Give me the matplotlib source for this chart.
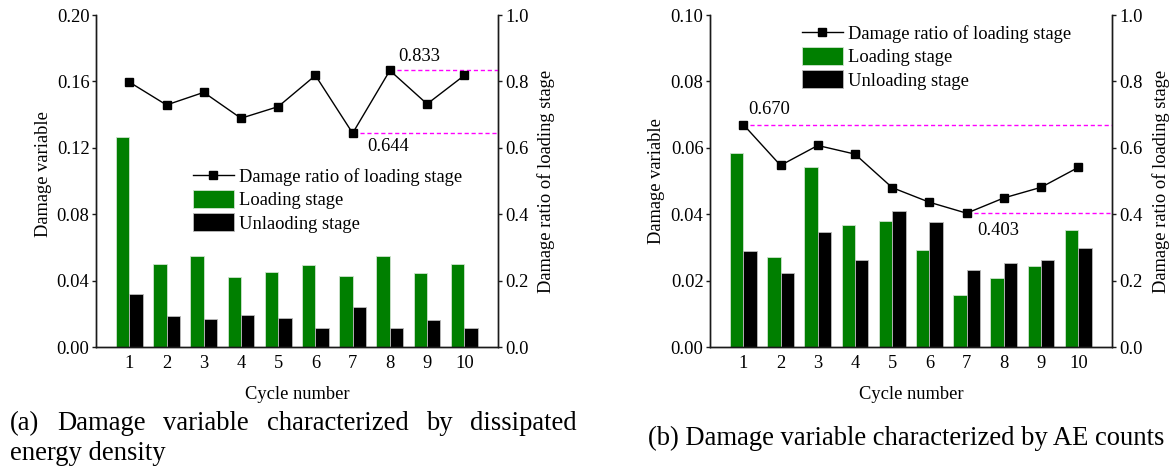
import matplotlib
matplotlib.use("Agg")
import matplotlib.pyplot as plt
from matplotlib.lines import Line2D
from matplotlib.patches import Patch

plt.rcParams['font.family'] = ['Liberation Serif', 'DejaVu Serif']

cycles = [1, 2, 3, 4, 5, 6, 7, 8, 9, 10]

# (a) dissipated energy density
a_loading = [0.1265, 0.0500, 0.0548, 0.0420, 0.0452, 0.0496, 0.0428, 0.0546, 0.0444, 0.0500]
a_unloading = [0.0321, 0.0187, 0.0169, 0.0191, 0.0173, 0.0112, 0.0239, 0.0112, 0.0163, 0.0112]
a_ratio = [0.798, 0.729, 0.767, 0.689, 0.724, 0.818, 0.644, 0.833, 0.732, 0.818]

# (b) AE counts
b_loading = [0.0584, 0.0270, 0.0541, 0.0366, 0.0380, 0.0292, 0.0157, 0.0208, 0.0245, 0.0351]
b_unloading = [0.0288, 0.0222, 0.0347, 0.0263, 0.0410, 0.0376, 0.0232, 0.0253, 0.0263, 0.0298]
b_ratio = [0.670, 0.547, 0.607, 0.581, 0.480, 0.436, 0.403, 0.449, 0.481, 0.541]

a_yticks = [0.00, 0.04, 0.08, 0.12, 0.16, 0.20]
b_yticks = [0.00, 0.02, 0.04, 0.06, 0.08, 0.10]
r_yticks = [0.0, 0.2, 0.4, 0.6, 0.8, 1.0]

GREEN = '#007f00'
MAG = '#ff00ff'
SPINE = '#1a1a1a'
FS = 13.3

W, H = 1170, 466
fig = plt.figure(figsize=(W / 100, H / 100), dpi=100)
XL = (0.105, 10.905)


def style_axis(a):
    a.spines['top'].set_visible(False)
    for s in ('left', 'bottom', 'right'):
        a.spines[s].set_linewidth(1.0)
        a.spines[s].set_color(SPINE)


def panel(rect, loading, unloading, ratio, yticks, ymax, legend_label2,
          ann, legend_anchor, ylab_left_x, ylab_left_y, ylab_right_x):
    ax = fig.add_axes(rect)
    w = 0.36
    ax.bar([c - w / 2 for c in cycles], loading, width=w, color=GREEN,
           edgecolor='#cfe3cf', linewidth=0.6, zorder=2)
    ax.bar([c + w / 2 for c in cycles], unloading, width=w, color='black',
           edgecolor='#bbbbbb', linewidth=0.6, zorder=2)
    ax.set_xlim(*XL)
    ax.set_ylim(0, ymax)
    ax.set_yticks(yticks)
    ax.set_yticklabels(['{:.2f}'.format(v) for v in yticks], fontsize=FS)
    ax.set_xticks(cycles)
    ax.set_xticklabels([str(c) for c in cycles], fontsize=FS)
    ax.tick_params(axis='x', length=0, pad=5.5)
    ax.tick_params(axis='y', direction='out', length=3.2, width=1, pad=1.5, color=SPINE)
    style_axis(ax)
    ax.set_xlabel('Cycle number', fontsize=FS, labelpad=10.5)
    ax.set_ylabel('Damage variable', fontsize=FS)
    ax.yaxis.set_label_coords(ylab_left_x, ylab_left_y)

    ax2 = ax.twinx()
    ax2.set_ylim(0, 1.0)
    ax2.set_yticks(r_yticks)
    ax2.set_yticklabels(['{:.1f}'.format(v) for v in r_yticks], fontsize=FS)
    ax2.tick_params(axis='y', direction='out', length=3.2, width=1, pad=1.8, color=SPINE)
    style_axis(ax2)
    ax2.plot(cycles, ratio, color='black', lw=1.0, marker='s', markersize=6,
             markerfacecolor='black', markeredgecolor='black', zorder=3)
    ax2.set_ylabel('Damage ratio of loading stage', fontsize=FS)
    ax2.yaxis.set_label_coords(ylab_right_x, 0.5)

    for (idx, txt, dx, dy) in ann:
        xv = cycles[idx]
        yv = ratio[idx]
        ax2.plot([xv, XL[1]], [yv, yv], color=MAG, lw=1.0, ls=(0, (3, 2)), zorder=2)
        ax2.annotate(txt, (xv, yv), xytext=(dx, dy), textcoords='offset points',
                     fontsize=FS, ha='left', va='center')

    handles = [Line2D([], [], color='black', lw=1.0, marker='s', markersize=6),
               Patch(facecolor=GREEN, edgecolor='#cfe3cf', linewidth=0.6),
               Patch(facecolor='black', edgecolor='#bbbbbb', linewidth=0.6)]
    labels = ['Damage ratio of loading stage', 'Loading stage', legend_label2]
    ax2.legend(handles, labels, loc='upper left', bbox_to_anchor=legend_anchor,
               bbox_transform=fig.transFigure, frameon=False, fontsize=FS,
               handlelength=2.2, handleheight=1.1, handletextpad=0.3,
               labelspacing=0.22, borderpad=0, borderaxespad=0)
    return ax, ax2


panel([96 / W, 1 - 347 / H, 402 / W, 332 / H], a_loading, a_unloading, a_ratio,
      a_yticks, 0.20, 'Unlaoding stage',
      [(7, '0.833', 5.8, 10), (6, '0.644', 10.3, -9.4)],
      (193 / W, 1 - 167 / H), -0.1095, 0.52, 1.097)

panel([710 / W, 1 - 347 / H, 402 / W, 332 / H], b_loading, b_unloading, b_ratio,
      b_yticks, 0.10, 'Unloading stage',
      [(0, '0.670', 3.4, 10.6), (6, '0.403', 7.4, -12.2)],
      (802 / W, 1 - 24 / H), -0.112, 0.5, 1.0995)

# captions
CFS = 19.2
fig.text(648 / W, 1 - 445 / H, '(b) Damage variable characterized by AE counts',
         fontsize=CFS, ha='left', va='baseline')

# justified caption (a), first line spans x = 10 .. 577 px
words = ['(a)', 'Damage', 'variable', 'characterized', 'by', 'dissipated']
left_px, right_px = 10, 577
base1 = 1 - 430 / H
txts = [fig.text(0, base1, wd, fontsize=CFS, ha='left', va='baseline') for wd in words]
fig.canvas.draw()
r = fig.canvas.get_renderer()
widths = [t.get_window_extent(renderer=r).width for t in txts]
gap = (right_px - left_px - sum(widths)) / (len(words) - 1)
x = left_px
for t, wd in zip(txts, widths):
    t.set_x(x / W)
    x += wd + gap
fig.text(10 / W, 1 - 460 / H, 'energy density', fontsize=CFS, ha='left', va='baseline')

fig.savefig('out.png', dpi=100)
